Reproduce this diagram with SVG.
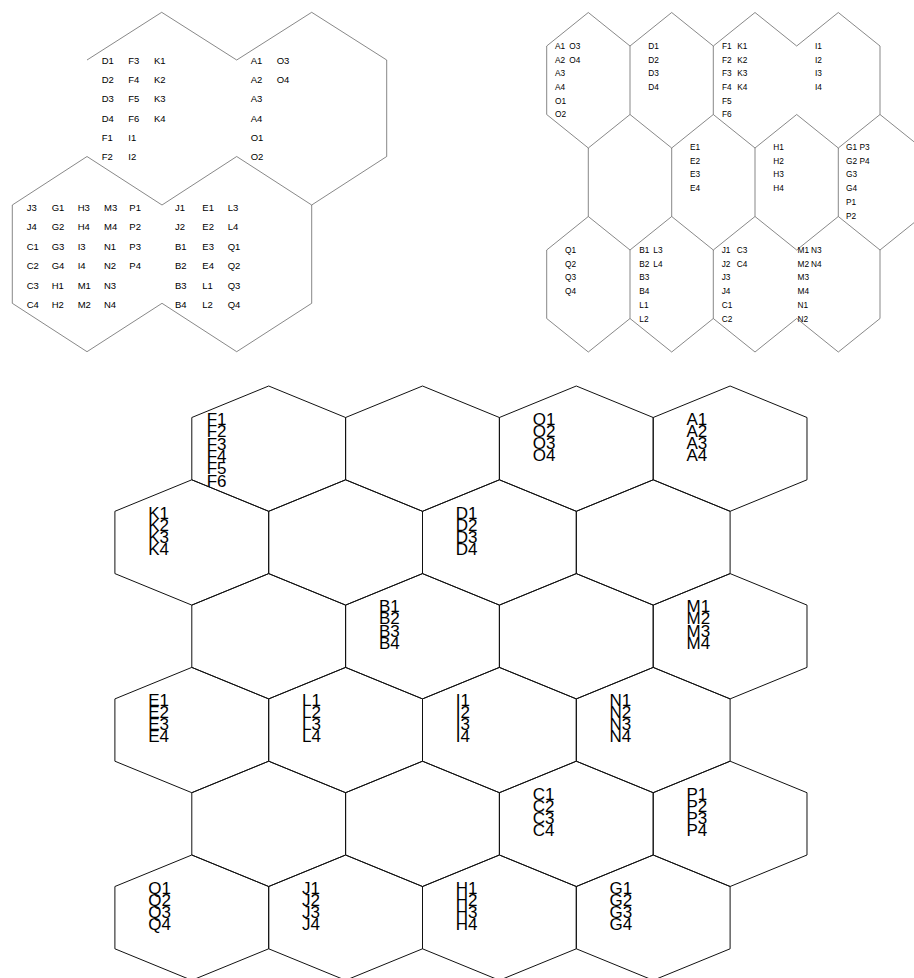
<svg xmlns="http://www.w3.org/2000/svg" xmlns:xlink="http://www.w3.org/1999/xlink" width="914" height="978" viewBox="0 0 914 978">
<style>
  .thin { fill: none; stroke: #555; stroke-width: 0.7; }
  .hex { fill: none; stroke: #111; stroke-width: 1; }
  .s { font-family: "Liberation Sans", Arial, sans-serif; font-size: 9.5px; fill: #000; }
  .xs { font-family: "Liberation Sans", Arial, sans-serif; font-size: 8.3px; fill: #000; }
  .big { font-family: "Liberation Sans", Arial, sans-serif; font-size: 17px; fill: #000; }
</style>
<defs>
  <path id="hx" d="M0,0 L76.9,31.5 L76.9,93.8 L0,125.3 L-76.9,93.8 L-76.9,31.5 Z"/>
</defs>
<rect width="914" height="978" fill="#fff"/>

<!-- Top-left cluster -->
<g id="cluster-topleft">
  <path class="thin" d="M87,60 L161.7,12.3 L236.7,60 L311.7,12.3 L386.7,60 L386.7,156.5 L311.7,205 L311.7,303.3 L236.7,351.7 L162,303.3 L87,351.7 L12.3,303.3 L12.3,205 L87,156.5 L162,205 L236.7,156.5 L311.7,205"/>
  <g id="tl-hex-a">
    <text class="s" x="101.7" y="64"><tspan x="101.7">D1</tspan><tspan x="101.7" dy="19.2">D2</tspan><tspan x="101.7" dy="19.2">D3</tspan><tspan x="101.7" dy="19.2">D4</tspan><tspan x="101.7" dy="19.2">F1</tspan><tspan x="101.7" dy="19.2">F2</tspan></text>
    <text class="s" x="128.3" y="64"><tspan x="128.3">F3</tspan><tspan x="128.3" dy="19.2">F4</tspan><tspan x="128.3" dy="19.2">F5</tspan><tspan x="128.3" dy="19.2">F6</tspan><tspan x="128.3" dy="19.2">I1</tspan><tspan x="128.3" dy="19.2">I2</tspan></text>
    <text class="s" x="154" y="64"><tspan x="154">K1</tspan><tspan x="154" dy="19.2">K2</tspan><tspan x="154" dy="19.2">K3</tspan><tspan x="154" dy="19.2">K4</tspan></text>
  </g>
  <g id="tl-hex-b">
    <text class="s" x="250.7" y="64"><tspan x="250.7">A1</tspan><tspan x="250.7" dy="19.2">A2</tspan><tspan x="250.7" dy="19.2">A3</tspan><tspan x="250.7" dy="19.2">A4</tspan><tspan x="250.7" dy="19.2">O1</tspan><tspan x="250.7" dy="19.2">O2</tspan></text>
    <text class="s" x="276.7" y="64"><tspan x="276.7">O3</tspan><tspan x="276.7" dy="19.2">O4</tspan></text>
  </g>
  <g id="tl-hex-c">
    <text class="s" x="26.7" y="211"><tspan x="26.7">J3</tspan><tspan x="26.7" dy="19.45">J4</tspan><tspan x="26.7" dy="19.45">C1</tspan><tspan x="26.7" dy="19.45">C2</tspan><tspan x="26.7" dy="19.45">C3</tspan><tspan x="26.7" dy="19.45">C4</tspan></text>
    <text class="s" x="51.7" y="211"><tspan x="51.7">G1</tspan><tspan x="51.7" dy="19.45">G2</tspan><tspan x="51.7" dy="19.45">G3</tspan><tspan x="51.7" dy="19.45">G4</tspan><tspan x="51.7" dy="19.45">H1</tspan><tspan x="51.7" dy="19.45">H2</tspan></text>
    <text class="s" x="77.7" y="211"><tspan x="77.7">H3</tspan><tspan x="77.7" dy="19.45">H4</tspan><tspan x="77.7" dy="19.45">I3</tspan><tspan x="77.7" dy="19.45">I4</tspan><tspan x="77.7" dy="19.45">M1</tspan><tspan x="77.7" dy="19.45">M2</tspan></text>
    <text class="s" x="104" y="211"><tspan x="104">M3</tspan><tspan x="104" dy="19.45">M4</tspan><tspan x="104" dy="19.45">N1</tspan><tspan x="104" dy="19.45">N2</tspan><tspan x="104" dy="19.45">N3</tspan><tspan x="104" dy="19.45">N4</tspan></text>
    <text class="s" x="129.3" y="211"><tspan x="129.3">P1</tspan><tspan x="129.3" dy="19.45">P2</tspan><tspan x="129.3" dy="19.45">P3</tspan><tspan x="129.3" dy="19.45">P4</tspan></text>
  </g>
  <g id="tl-hex-d">
    <text class="s" x="175" y="211"><tspan x="175">J1</tspan><tspan x="175" dy="19.45">J2</tspan><tspan x="175" dy="19.45">B1</tspan><tspan x="175" dy="19.45">B2</tspan><tspan x="175" dy="19.45">B3</tspan><tspan x="175" dy="19.45">B4</tspan></text>
    <text class="s" x="202.3" y="211"><tspan x="202.3">E1</tspan><tspan x="202.3" dy="19.45">E2</tspan><tspan x="202.3" dy="19.45">E3</tspan><tspan x="202.3" dy="19.45">E4</tspan><tspan x="202.3" dy="19.45">L1</tspan><tspan x="202.3" dy="19.45">L2</tspan></text>
    <text class="s" x="227.7" y="211"><tspan x="227.7">L3</tspan><tspan x="227.7" dy="19.45">L4</tspan><tspan x="227.7" dy="19.45">Q1</tspan><tspan x="227.7" dy="19.45">Q2</tspan><tspan x="227.7" dy="19.45">Q3</tspan><tspan x="227.7" dy="19.45">Q4</tspan></text>
  </g>
</g>

<!-- Top-right grid -->
<g id="grid-topright">
  <path class="thin" d="M546.7,46 L588.3,12.5 L630,46 L671.7,12.5 L713.3,46 L755,12.5 L796.7,46 L838.3,12.5 L880,46"/>
  <path class="thin" d="M546.7,46 V114.5 M630,46 V114.5 M713.3,46 V114.5 M880,46 V114.5"/>
  <path class="thin" d="M546.7,114.5 L588.3,148 L630,114.5 L671.7,148 L713.3,114.5 L755,148 L796.7,114.5 L838.3,148 L880,114.5 L921.7,148"/>
  <path class="thin" d="M588.3,148 V216.5 M671.7,148 V216.5 M755,148 V216.5 M838.3,148 V216.5"/>
  <path class="thin" d="M546.7,250 L588.3,216.5 L630,250 L671.7,216.5 L713.3,250 L755,216.5 L796.7,250 L838.3,216.5 L880,250 L921.7,216.5"/>
  <path class="thin" d="M546.7,250 V318.5 M630,250 V318.5 M713.3,250 V318.5 M880,250 V318.5"/>
  <path class="thin" d="M546.7,318.5 L588.3,352 L630,318.5 L671.7,352 L713.3,318.5 L755,352 L796.7,318.5 L838.3,352 L880,318.5"/>
  <g id="tr-r1c0">
    <text class="xs" x="555" y="48.8"><tspan x="555">A1</tspan><tspan x="555" dy="13.7">A2</tspan><tspan x="555" dy="13.7">A3</tspan><tspan x="555" dy="13.7">A4</tspan><tspan x="555" dy="13.7">O1</tspan><tspan x="555" dy="13.7">O2</tspan></text>
    <text class="xs" x="569.3" y="48.8"><tspan x="569.3">O3</tspan><tspan x="569.3" dy="13.7">O4</tspan></text>
  </g>
  <g id="tr-r1c1">
    <text class="xs" x="648.3" y="48.8"><tspan x="648.3">D1</tspan><tspan x="648.3" dy="13.7">D2</tspan><tspan x="648.3" dy="13.7">D3</tspan><tspan x="648.3" dy="13.7">D4</tspan></text>
  </g>
  <g id="tr-r1c2">
    <text class="xs" x="722" y="48.8"><tspan x="722">F1</tspan><tspan x="722" dy="13.7">F2</tspan><tspan x="722" dy="13.7">F3</tspan><tspan x="722" dy="13.7">F4</tspan><tspan x="722" dy="13.7">F5</tspan><tspan x="722" dy="13.7">F6</tspan></text>
    <text class="xs" x="737.3" y="48.8"><tspan x="737.3">K1</tspan><tspan x="737.3" dy="13.7">K2</tspan><tspan x="737.3" dy="13.7">K3</tspan><tspan x="737.3" dy="13.7">K4</tspan></text>
    <text class="xs" x="815" y="48.8"><tspan x="815">I1</tspan><tspan x="815" dy="13.7">I2</tspan><tspan x="815" dy="13.7">I3</tspan><tspan x="815" dy="13.7">I4</tspan></text>
  </g>
  <g id="tr-r2">
    <text class="xs" x="690" y="150"><tspan x="690">E1</tspan><tspan x="690" dy="13.7">E2</tspan><tspan x="690" dy="13.7">E3</tspan><tspan x="690" dy="13.7">E4</tspan></text>
    <text class="xs" x="773.3" y="150"><tspan x="773.3">H1</tspan><tspan x="773.3" dy="13.7">H2</tspan><tspan x="773.3" dy="13.7">H3</tspan><tspan x="773.3" dy="13.7">H4</tspan></text>
    <text class="xs" x="846" y="150"><tspan x="846">G1</tspan><tspan x="846" dy="13.7">G2</tspan><tspan x="846" dy="13.7">G3</tspan><tspan x="846" dy="13.7">G4</tspan><tspan x="846" dy="13.7">P1</tspan><tspan x="846" dy="13.7">P2</tspan></text>
    <text class="xs" x="859.5" y="150"><tspan x="859.5">P3</tspan><tspan x="859.5" dy="13.7">P4</tspan></text>
  </g>
  <g id="tr-r3">
    <text class="xs" x="565" y="253"><tspan x="565">Q1</tspan><tspan x="565" dy="13.7">Q2</tspan><tspan x="565" dy="13.7">Q3</tspan><tspan x="565" dy="13.7">Q4</tspan></text>
    <text class="xs" x="639.3" y="253"><tspan x="639.3">B1</tspan><tspan x="639.3" dy="13.7">B2</tspan><tspan x="639.3" dy="13.7">B3</tspan><tspan x="639.3" dy="13.7">B4</tspan><tspan x="639.3" dy="13.7">L1</tspan><tspan x="639.3" dy="13.7">L2</tspan></text>
    <text class="xs" x="653.3" y="253"><tspan x="653.3">L3</tspan><tspan x="653.3" dy="13.7">L4</tspan></text>
    <text class="xs" x="721.7" y="253"><tspan x="721.7">J1</tspan><tspan x="721.7" dy="13.7">J2</tspan><tspan x="721.7" dy="13.7">J3</tspan><tspan x="721.7" dy="13.7">J4</tspan><tspan x="721.7" dy="13.7">C1</tspan><tspan x="721.7" dy="13.7">C2</tspan></text>
    <text class="xs" x="736.7" y="253"><tspan x="736.7">C3</tspan><tspan x="736.7" dy="13.7">C4</tspan></text>
    <text class="xs" x="797.5" y="253"><tspan x="797.5">M1</tspan><tspan x="797.5" dy="13.7">M2</tspan><tspan x="797.5" dy="13.7">M3</tspan><tspan x="797.5" dy="13.7">M4</tspan><tspan x="797.5" dy="13.7">N1</tspan><tspan x="797.5" dy="13.7">N2</tspan></text>
    <text class="xs" x="811" y="253"><tspan x="811">N3</tspan><tspan x="811" dy="13.7">N4</tspan></text>
  </g>
</g>

<!-- Bottom grid -->
<g id="grid-bottom">
  <g id="hex-F"><use href="#hx" class="hex" x="268.7" y="386"/>
    <text class="big" x="206.7" y="424.7"><tspan x="206.7">F1</tspan><tspan x="206.7" dy="12.4">F2</tspan><tspan x="206.7" dy="12.4">F3</tspan><tspan x="206.7" dy="12.4">F4</tspan><tspan x="206.7" dy="12.4">F5</tspan><tspan x="206.7" dy="12.4">F6</tspan></text></g>
  <g id="hex-r1c1"><use href="#hx" class="hex" x="422.5" y="386"/></g>
  <g id="hex-O"><use href="#hx" class="hex" x="576.3" y="386"/>
    <text class="big" x="532.7" y="424.7"><tspan x="532.7">O1</tspan><tspan x="532.7" dy="12.1">O2</tspan><tspan x="532.7" dy="12.1">O3</tspan><tspan x="532.7" dy="12.1">O4</tspan></text></g>
  <g id="hex-A"><use href="#hx" class="hex" x="730.1" y="386"/>
    <text class="big" x="686.5" y="424.7"><tspan x="686.5">A1</tspan><tspan x="686.5" dy="12.1">A2</tspan><tspan x="686.5" dy="12.1">A3</tspan><tspan x="686.5" dy="12.1">A4</tspan></text></g>

  <g id="hex-K"><use href="#hx" class="hex" x="191.8" y="479.8"/>
    <text class="big" x="148.2" y="518.5"><tspan x="148.2">K1</tspan><tspan x="148.2" dy="12.1">K2</tspan><tspan x="148.2" dy="12.1">K3</tspan><tspan x="148.2" dy="12.1">K4</tspan></text></g>
  <g id="hex-r2c1"><use href="#hx" class="hex" x="345.6" y="479.8"/></g>
  <g id="hex-D"><use href="#hx" class="hex" x="499.4" y="479.8"/>
    <text class="big" x="455.8" y="518.5"><tspan x="455.8">D1</tspan><tspan x="455.8" dy="12.1">D2</tspan><tspan x="455.8" dy="12.1">D3</tspan><tspan x="455.8" dy="12.1">D4</tspan></text></g>
  <g id="hex-r2c3"><use href="#hx" class="hex" x="653.2" y="479.8"/></g>

  <g id="hex-r3c0"><use href="#hx" class="hex" x="268.7" y="573.6"/></g>
  <g id="hex-B"><use href="#hx" class="hex" x="422.5" y="573.6"/>
    <text class="big" x="378.9" y="612.3"><tspan x="378.9">B1</tspan><tspan x="378.9" dy="12.1">B2</tspan><tspan x="378.9" dy="12.1">B3</tspan><tspan x="378.9" dy="12.1">B4</tspan></text></g>
  <g id="hex-r3c2"><use href="#hx" class="hex" x="576.3" y="573.6"/></g>
  <g id="hex-M"><use href="#hx" class="hex" x="730.1" y="573.6"/>
    <text class="big" x="686.5" y="612.3"><tspan x="686.5">M1</tspan><tspan x="686.5" dy="12.1">M2</tspan><tspan x="686.5" dy="12.1">M3</tspan><tspan x="686.5" dy="12.1">M4</tspan></text></g>

  <g id="hex-E"><use href="#hx" class="hex" x="191.8" y="667.4"/>
    <text class="big" x="148.2" y="706.1"><tspan x="148.2">E1</tspan><tspan x="148.2" dy="12.1">E2</tspan><tspan x="148.2" dy="12.1">E3</tspan><tspan x="148.2" dy="12.1">E4</tspan></text></g>
  <g id="hex-L"><use href="#hx" class="hex" x="345.6" y="667.4"/>
    <text class="big" x="302" y="706.1"><tspan x="302">L1</tspan><tspan x="302" dy="12.1">L2</tspan><tspan x="302" dy="12.1">L3</tspan><tspan x="302" dy="12.1">L4</tspan></text></g>
  <g id="hex-I"><use href="#hx" class="hex" x="499.4" y="667.4"/>
    <text class="big" x="455.8" y="706.1"><tspan x="455.8">I1</tspan><tspan x="455.8" dy="12.1">I2</tspan><tspan x="455.8" dy="12.1">I3</tspan><tspan x="455.8" dy="12.1">I4</tspan></text></g>
  <g id="hex-N"><use href="#hx" class="hex" x="653.2" y="667.4"/>
    <text class="big" x="609.6" y="706.1"><tspan x="609.6">N1</tspan><tspan x="609.6" dy="12.1">N2</tspan><tspan x="609.6" dy="12.1">N3</tspan><tspan x="609.6" dy="12.1">N4</tspan></text></g>

  <g id="hex-r5c0"><use href="#hx" class="hex" x="268.7" y="761.2"/></g>
  <g id="hex-r5c1"><use href="#hx" class="hex" x="422.5" y="761.2"/></g>
  <g id="hex-C"><use href="#hx" class="hex" x="576.3" y="761.2"/>
    <text class="big" x="532.7" y="799.9"><tspan x="532.7">C1</tspan><tspan x="532.7" dy="12.1">C2</tspan><tspan x="532.7" dy="12.1">C3</tspan><tspan x="532.7" dy="12.1">C4</tspan></text></g>
  <g id="hex-P"><use href="#hx" class="hex" x="730.1" y="761.2"/>
    <text class="big" x="686.5" y="799.9"><tspan x="686.5">P1</tspan><tspan x="686.5" dy="12.1">P2</tspan><tspan x="686.5" dy="12.1">P3</tspan><tspan x="686.5" dy="12.1">P4</tspan></text></g>

  <g id="hex-Q"><use href="#hx" class="hex" x="191.8" y="855"/>
    <text class="big" x="148.2" y="893.7"><tspan x="148.2">Q1</tspan><tspan x="148.2" dy="12.1">Q2</tspan><tspan x="148.2" dy="12.1">Q3</tspan><tspan x="148.2" dy="12.1">Q4</tspan></text></g>
  <g id="hex-J"><use href="#hx" class="hex" x="345.6" y="855"/>
    <text class="big" x="302" y="893.7"><tspan x="302">J1</tspan><tspan x="302" dy="12.1">J2</tspan><tspan x="302" dy="12.1">J3</tspan><tspan x="302" dy="12.1">J4</tspan></text></g>
  <g id="hex-H"><use href="#hx" class="hex" x="499.4" y="855"/>
    <text class="big" x="455.8" y="893.7"><tspan x="455.8">H1</tspan><tspan x="455.8" dy="12.1">H2</tspan><tspan x="455.8" dy="12.1">H3</tspan><tspan x="455.8" dy="12.1">H4</tspan></text></g>
  <g id="hex-G"><use href="#hx" class="hex" x="653.2" y="855"/>
    <text class="big" x="609.6" y="893.7"><tspan x="609.6">G1</tspan><tspan x="609.6" dy="12.1">G2</tspan><tspan x="609.6" dy="12.1">G3</tspan><tspan x="609.6" dy="12.1">G4</tspan></text></g>
</g>
</svg>
